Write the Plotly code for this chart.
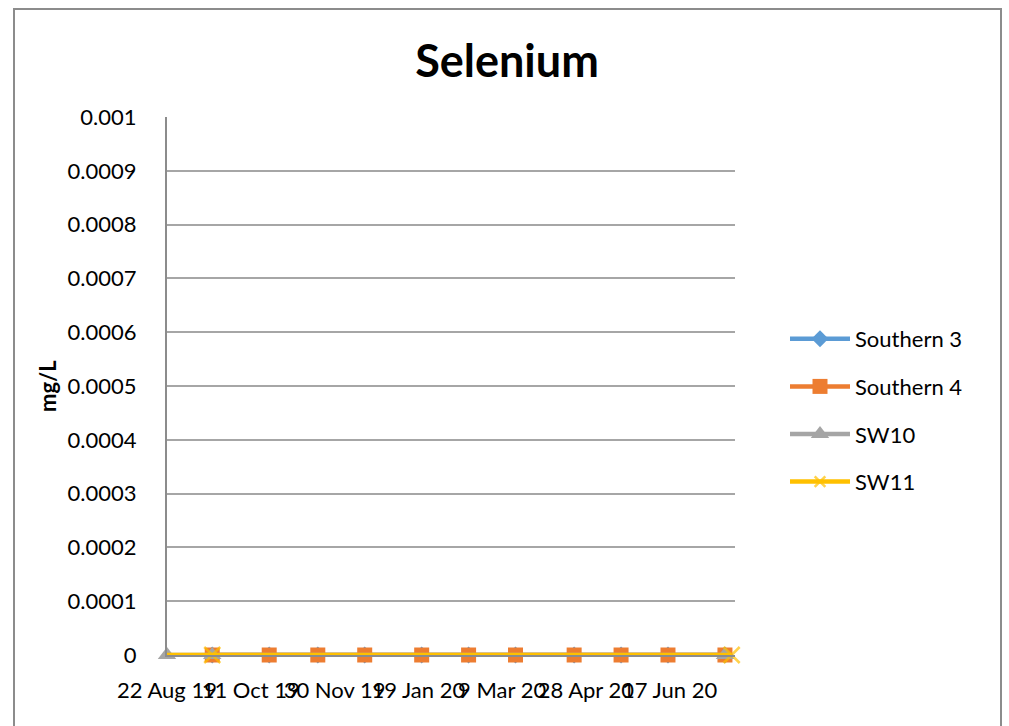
import plotly.graph_objects as go

# Sampling dates and selenium results (mg/L) per monitoring site
southern3_dates = ["2019-09-18", "2019-10-22", "2019-11-20", "2019-12-18", "2020-01-21",
                   "2020-02-18", "2020-03-17", "2020-04-21", "2020-05-19", "2020-06-16",
                   "2020-07-20"]
southern3_vals = [0, 0, 0, 0, 0, 0, 0, 0, 0, 0, 0]

southern4_dates = ["2019-09-18", "2019-10-22", "2019-11-20", "2019-12-18", "2020-01-21",
                   "2020-02-18", "2020-03-17", "2020-04-21", "2020-05-19", "2020-06-16",
                   "2020-07-20"]
southern4_vals = [0, 0, 0, 0, 0, 0, 0, 0, 0, 0, 0]

sw10_dates = ["2019-08-22", "2019-09-18", "2020-07-20"]
sw10_vals = [0, 0, 0]

sw11_dates = ["2019-08-22", "2019-09-18", "2020-07-24"]
sw11_vals = [0, 0, 0]

# Axis ticks
y_tickvals = [0, 0.0001, 0.0002, 0.0003, 0.0004, 0.0005, 0.0006, 0.0007, 0.0008, 0.0009, 0.001]
y_ticktext = ["0", "0.0001", "0.0002", "0.0003", "0.0004", "0.0005", "0.0006", "0.0007",
              "0.0008", "0.0009", "0.001"]
x_start = "2019-08-22"
x_end = "2020-07-26"

FONT = "Lato, 'Open Sans', sans-serif"
W, H = 1009, 726
L, R, T, B = 167, 735, 117, 655
pw, ph = R - L, B - T


def px_x(x):
    return (x - L) / pw


def px_y(y):
    return (B - y) / ph


fig = go.Figure()

fig.add_trace(go.Scatter(
    x=southern3_dates, y=southern3_vals, name="Southern 3", mode="lines+markers",
    line=dict(color="#5B9BD5", width=4.5),
    marker=dict(symbol="diamond", size=13, color="#5B9BD5"),
    legendgroup="g1", cliponaxis=False,
))
fig.add_trace(go.Scatter(
    x=southern4_dates, y=southern4_vals, name="Southern 4", mode="lines+markers",
    line=dict(color="#ED7D31", width=4.5),
    marker=dict(symbol="square", size=15, color="#ED7D31"),
    legendgroup="g2", cliponaxis=False,
))
fig.add_trace(go.Scatter(
    x=sw10_dates, y=sw10_vals, name="SW10", mode="lines+markers",
    line=dict(color="#A5A5A5", width=4.5),
    marker=dict(symbol="triangle-up", size=16, color="#A5A5A5"),
    legendgroup="g3", cliponaxis=False,
))
fig.add_trace(go.Scatter(
    x=sw11_dates, y=sw11_vals, name="SW11", mode="lines+markers",
    line=dict(color="#FFC000", width=4.5),
    marker=dict(symbol="x-thin", size=[0, 16, 16], color="#FFC000",
                line=dict(color="#FFC000", width=2.5)),
    legendgroup="g4", cliponaxis=False,
))

# Outer chart border
fig.add_shape(type="rect", xref="paper", yref="paper",
              x0=px_x(14), x1=px_x(1001), y0=px_y(740), y1=px_y(9),
              line=dict(color="#8C8C8C", width=2), fillcolor="rgba(0,0,0,0)", layer="below")

# Vertical axis title
fig.add_annotation(text="<b>mg/L</b>", xref="paper", yref="paper",
                   x=px_x(47), y=px_y(386), textangle=-90, showarrow=False,
                   font=dict(family=FONT, size=22, color="black"),
                   xanchor="center", yanchor="middle")

fig.update_layout(
    width=W, height=H,
    margin=dict(l=L, r=W - R, t=T, b=H - B, pad=0),
    paper_bgcolor="white", plot_bgcolor="white",
    font=dict(family=FONT, size=22, color="black"),
    title=dict(text="<b>Selenium</b>", x=507 / W, xref="container", xanchor="center",
               y=1 - 61 / H, yref="container", yanchor="middle",
               font=dict(family=FONT, size=45, color="black")),
    xaxis=dict(
        type="date", range=[x_start, x_end], tick0=x_start, dtick=50 * 86400000,
        tickformat="%-d %b %y", tickangle=0, showgrid=False, zeroline=False,
        showline=True, linecolor="#8C8C8C", linewidth=2, ticks="",
        ticklabelstandoff=15,
    ),
    yaxis=dict(
        range=[0, 0.001], tickvals=y_tickvals, ticktext=y_ticktext,
        showgrid=True, gridcolor="#A6A6A6", gridwidth=1.5, zeroline=False,
        showline=True, linecolor="#8C8C8C", linewidth=2, ticks="",
        ticklabelstandoff=24,
    ),
    legend=dict(x=px_x(785), y=px_y(318), xanchor="left", yanchor="top",
                tracegroupgap=16, itemwidth=60, bgcolor="rgba(0,0,0,0)",
                font=dict(family=FONT, size=22)),
    showlegend=True,
)

fig.write_html("out.html")
